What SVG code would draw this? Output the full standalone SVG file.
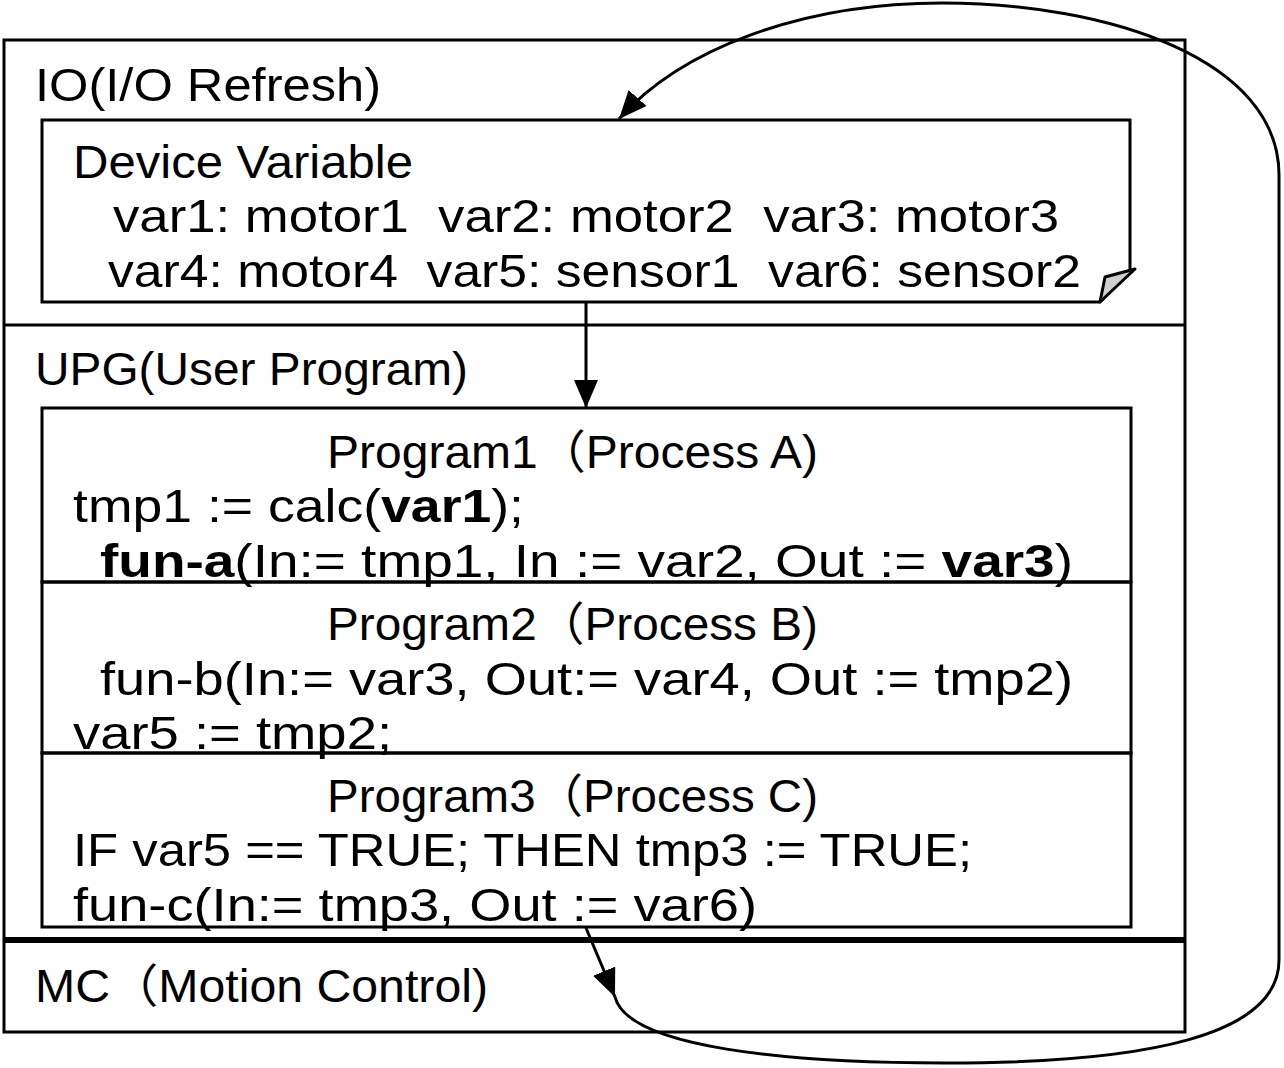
<svg xmlns="http://www.w3.org/2000/svg" width="1284" height="1068" viewBox="0 0 1284 1068">
<style>
.t{font-family:"Liberation Sans","Noto Sans CJK JP",sans-serif;font-size:46px;fill:#000;white-space:pre}
.b{font-weight:bold}
.box{fill:none;stroke:#000;stroke-width:3}
.con{fill:none;stroke:#000;stroke-width:3}
</style>
<defs>
<marker id="ah2" viewBox="0 0 28 24" refX="28" refY="12" markerWidth="28" markerHeight="24" markerUnits="userSpaceOnUse" orient="auto">
<path d="M0,0 L28,12 L0,24 z" fill="#000"/>
</marker>
</defs>
<rect width="1284" height="1068" fill="#fff"/>
<g id="outer">
<rect class="box" x="4" y="40" width="1181" height="992"/>
<line x1="4" y1="325" x2="1185" y2="325" stroke="#000" stroke-width="3"/>
<line x1="4" y1="940" x2="1185" y2="940" stroke="#000" stroke-width="6"/>
</g>
<g id="io">
<text class="t" x="35" y="101" textLength="346" lengthAdjust="spacingAndGlyphs">IO(I/O Refresh)</text>
</g>
<g id="device-variable">
<path class="box" d="M42,120 L1130,120 L1130,270 L1100,302 L42,302 Z"/>
<path d="M1135,269 L1105,277 L1100,302 Z" fill="#d0d0d0" stroke="#000" stroke-width="3" stroke-linejoin="round"/>
<text class="t" x="73" y="178" textLength="340" lengthAdjust="spacingAndGlyphs">Device Variable</text>
<text class="t" x="113" y="232" textLength="946" lengthAdjust="spacingAndGlyphs">var1: motor1  var2: motor2  var3: motor3</text>
<text class="t" x="108" y="287" textLength="973" lengthAdjust="spacingAndGlyphs">var4: motor4  var5: sensor1  var6: sensor2</text>
</g>
<g id="upg">
<text class="t" x="35" y="385" textLength="433" lengthAdjust="spacingAndGlyphs">UPG(User Program)</text>
</g>
<g id="program1">
<rect class="box" x="42" y="408" width="1089" height="174"/>
<text class="t" x="327" y="468" textLength="491" lengthAdjust="spacingAndGlyphs">Program1（Process A)</text>
<text class="t" x="73" y="522" textLength="451" lengthAdjust="spacingAndGlyphs">tmp1 := calc(<tspan class="b">var1</tspan>);</text>
<text class="t" x="100" y="577" textLength="973" lengthAdjust="spacingAndGlyphs"><tspan class="b">fun-a</tspan>(In:= tmp1, In := var2, Out := <tspan class="b">var3</tspan>)</text>
</g>
<g id="program2">
<rect class="box" x="42" y="582" width="1089" height="171"/>
<text class="t" x="327" y="640" textLength="491" lengthAdjust="spacingAndGlyphs">Program2（Process B)</text>
<text class="t" x="100" y="695" textLength="973" lengthAdjust="spacingAndGlyphs">fun-b(In:= var3, Out:= var4, Out := tmp2)</text>
<text class="t" x="73" y="749" textLength="319" lengthAdjust="spacingAndGlyphs">var5 := tmp2;</text>
</g>
<g id="program3">
<rect class="box" x="42" y="753" width="1089" height="174"/>
<text class="t" x="327" y="812" textLength="491" lengthAdjust="spacingAndGlyphs">Program3（Process C)</text>
<text class="t" x="73" y="866" textLength="899" lengthAdjust="spacingAndGlyphs">IF var5 == TRUE; THEN tmp3 := TRUE;</text>
<text class="t" x="73" y="921" textLength="684" lengthAdjust="spacingAndGlyphs">fun-c(In:= tmp3, Out := var6)</text>
</g>
<g id="mc">
<text class="t" x="35" y="1002" textLength="453" lengthAdjust="spacingAndGlyphs">MC（Motion Control)</text>
</g>
<g id="connectors">
<path class="con" d="M586,302 L586,408" marker-end="url(#ah2)"/>
<path class="con" d="M586,928 L615,997" marker-end="url(#ah2)"/>
<path class="con" d="M615,997 C628,1048 790,1063 945,1063 C1150,1063 1279,1035 1279,960 L1279,175 C1279,60 1110,3 942,3 C800,3 680,50 619,119" marker-end="url(#ah2)"/>
</g>
</svg>
